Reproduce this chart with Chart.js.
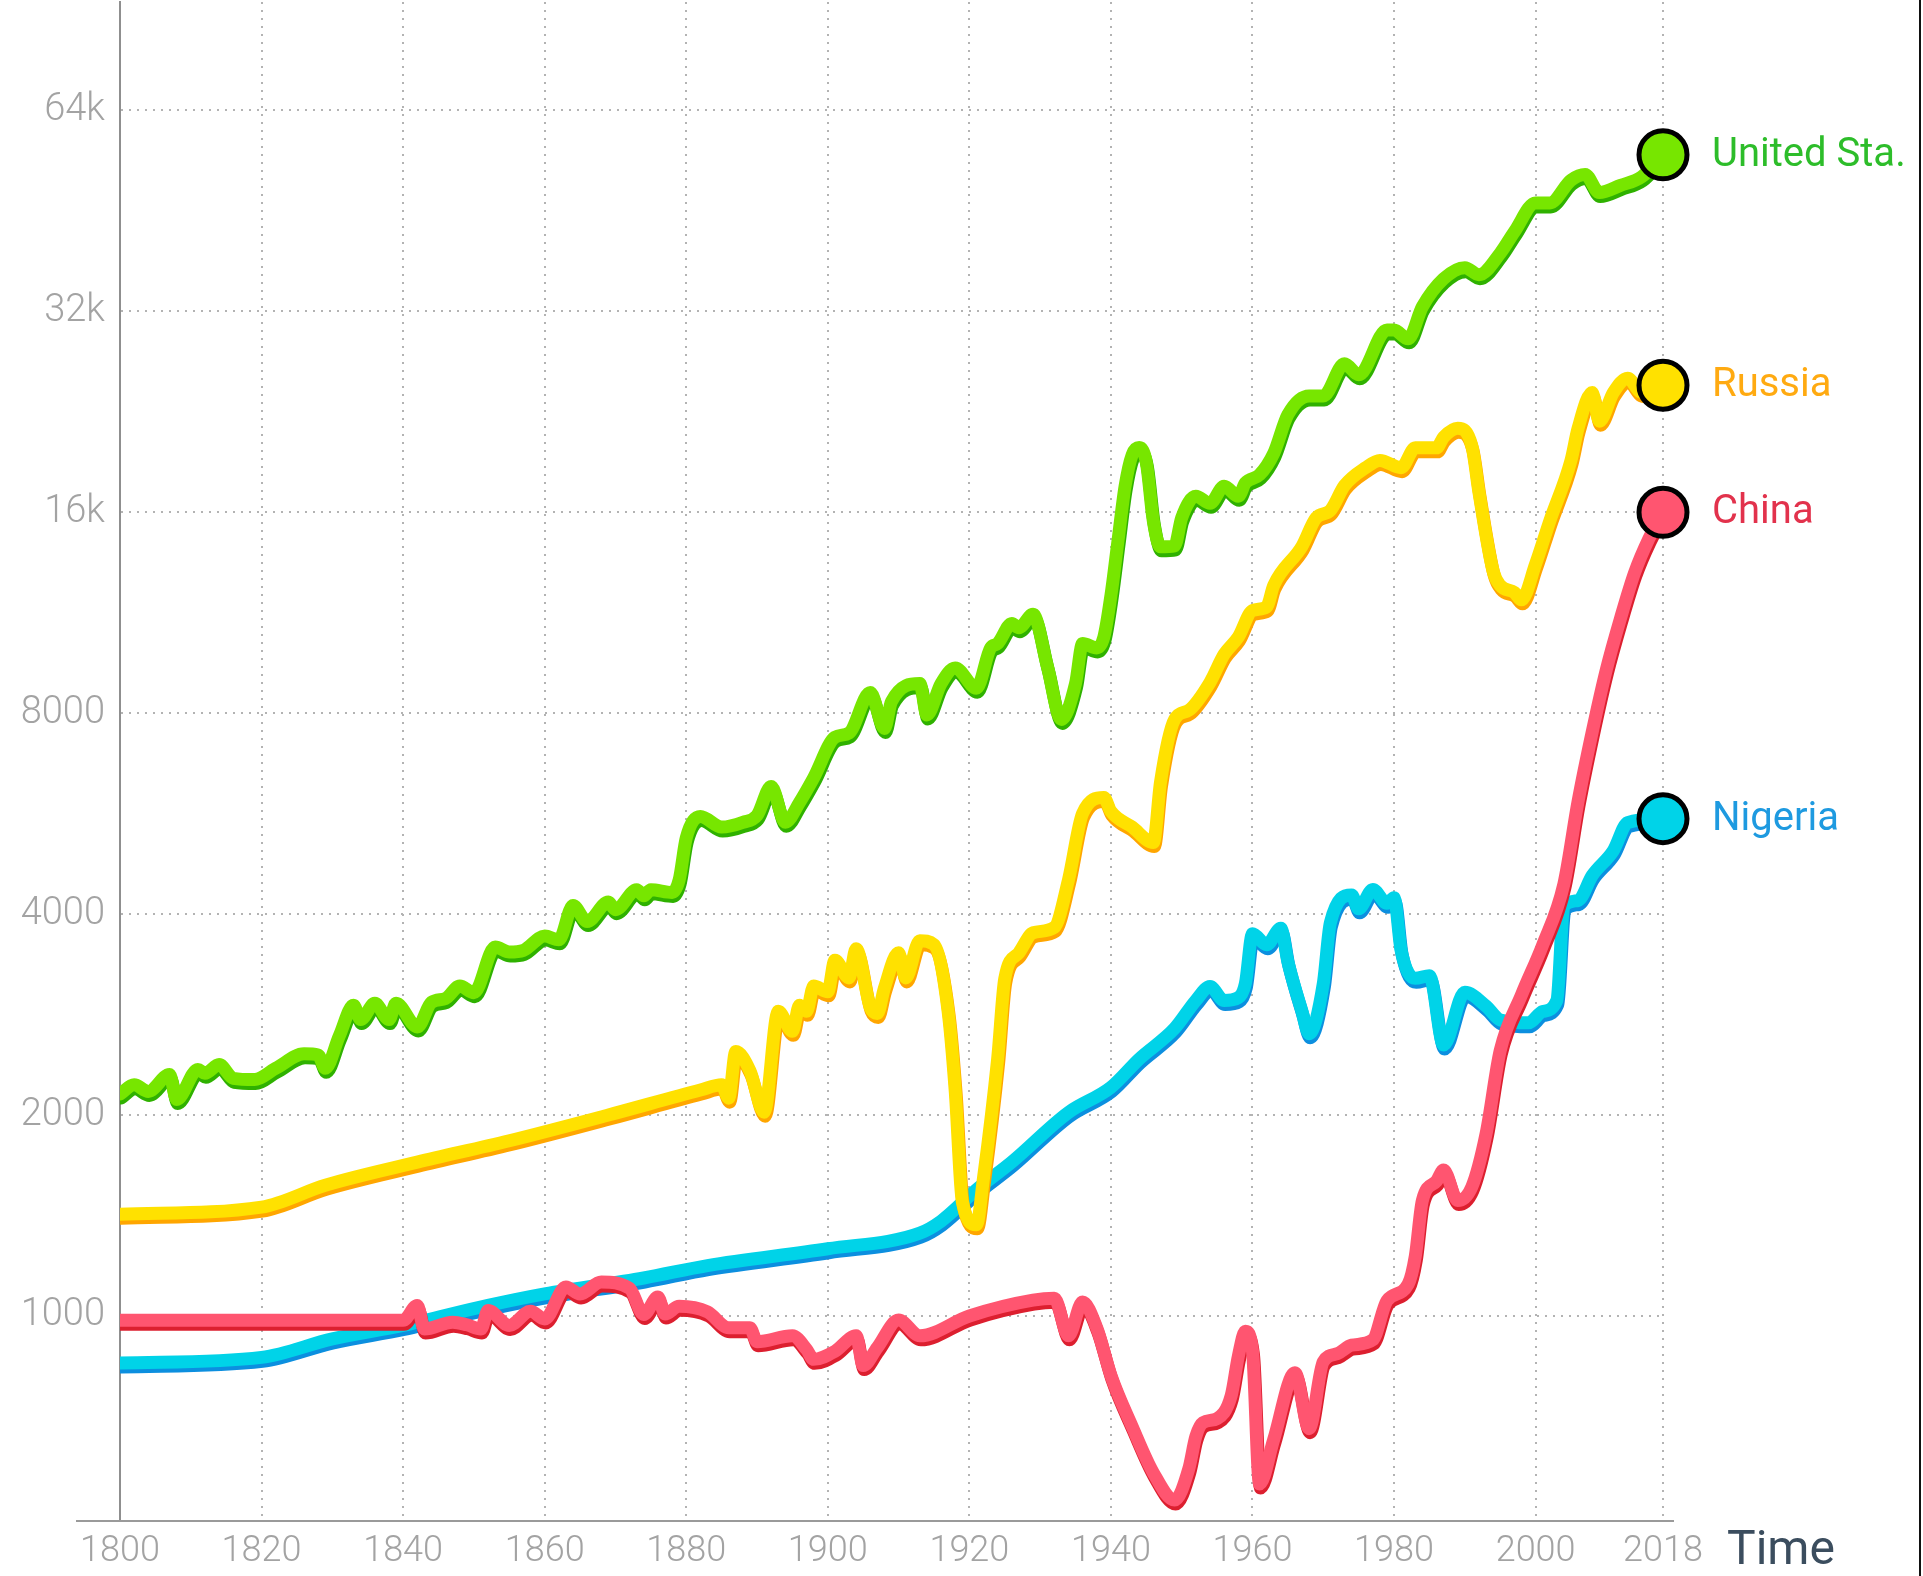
<!DOCTYPE html>
<html>
<head>
<meta charset="utf-8">
<title>Income per person</title>
<script src="https://cdn.jsdelivr.net/npm/chart.js@4.4.1/dist/chart.umd.min.js"></script>
<style>
    html, body { margin: 0; padding: 0; background: #fff; }
    #wrap { width: 1919px; height: 1576px; border-right: 2px solid #111; }
</style>
</head>
<body>
<div id="wrap"><canvas id="charts" width="1919" height="1576"></canvas></div>
<script>
// ticks
const xTickYears = [1800, 1820, 1840, 1860, 1880, 1900, 1920, 1940, 1960, 1980, 2000, 2018]
const yTickValues = [1000, 2000, 4000, 8000, 16000, 32000, 64000]
const yTickLabels = ['1000', '2000', '4000', '8000', '16k', '32k', '64k']

// United States
const usYears = [1800,1802,1804,1807,1808,1811,1812,1814,1816,1819,1822,1826,1828,1829,1831,1833,1834,1836,1838,1839,1842,1844,1846,1848,1850,1853,1855,1857,1860,1862,1864,1866,1869,1870,1873,1874,1875,1878,1879,1880,1882,1885,1888,1890,1892,1894,1896,1898,1901,1903,1906,1908,1909,1913,1914,1916,1918,1921,1923,1924,1926,1927,1929,1931,1933,1935,1936,1938,1939,1940,1941,1942,1943,1944,1945,1946,1947,1949,1950,1952,1954,1956,1958,1959,1961,1963,1965,1968,1970,1973,1975,1979,1980,1982,1984,1987,1990,1992,1995,1997,2000,2002,2005,2007,2009,2012,2015,2018]
const usIncome = [2150,2220,2170,2300,2110,2340,2310,2380,2270,2260,2350,2470,2460,2350,2630,2920,2780,2940,2780,2940,2710,2950,2990,3120,3050,3570,3510,3530,3710,3660,4120,3900,4170,4060,4350,4260,4350,4310,4500,5200,5600,5400,5490,5620,6210,5490,5880,6400,7360,7470,8590,7590,8330,8860,7950,8860,9350,8720,10020,10170,10900,10740,11250,9420,7830,8860,10170,10020,10400,12000,14500,17500,19500,20000,19000,15500,14200,14250,15700,16900,16500,17500,16900,17700,18200,19600,22400,23900,23900,26700,25700,30000,30000,29100,32500,35800,37200,36300,39100,42100,46500,46500,50300,51300,48200,49400,50900,54900]

// Russia
const ruYears = [1800,1820,1829,1842,1855,1869,1882,1885,1886,1887,1889,1891,1893,1895,1896,1897,1898,1900,1901,1903,1904,1906,1907,1908,1910,1911,1913,1915,1917,1918,1919,1921,1922,1924,1925,1927,1929,1932,1934,1936,1939,1940,1943,1946,1947,1949,1951,1954,1956,1958,1960,1962,1963,1967,1969,1971,1973,1976,1978,1981,1983,1986,1987,1989,1991,1992,1994,1995,1997,1998,2000,2002,2005,2006,2008,2009,2011,2013,2015,2018]
const ruIncome = [1420,1456,1570,1700,1830,2000,2180,2220,2120,2490,2330,2020,2860,2670,2920,2860,3120,3060,3410,3210,3550,2900,2840,3100,3500,3210,3650,3600,2860,2175,1485,1370,1610,2430,3200,3500,3750,3820,4500,5660,5980,5700,5400,5120,6300,7830,8080,8900,9800,10400,11400,11540,12430,14230,15700,16100,17540,18660,19130,18660,19980,19980,20720,21370,20100,17130,13060,12430,12130,11830,13380,15520,19130,21370,24190,21900,24190,25400,24190,24800]

// China
const cnYears = [1800,1840,1842,1843,1847,1849,1851,1852,1855,1858,1860,1863,1865,1868,1872,1874,1876,1877,1879,1883,1886,1889,1890,1895,1897,1898,1901,1904,1905,1907,1910,1913,1920,1929,1932,1934,1936,1938,1940,1943,1946,1949,1951,1952,1953,1955,1957,1958,1959,1960,1961,1963,1966,1968,1970,1972,1974,1977,1979,1982,1983,1984,1986,1987,1989,1991,1993,1995,1998,2001,2004,2006,2008,2010,2012,2014,2016,2018]
const cnIncome = [985,985,1037,956,979,970,956,1019,968,1016,990,1105,1079,1124,1100,1005,1068,1007,1034,1014,960,960,915,934,891,861,885,934,843,897,986,934,1000,1056,1063,934,1049,960,815,683,582,530,590,660,692,702,760,870,949,887,560,653,822,678,854,878,904,921,1054,1116,1228,1489,1592,1654,1489,1562,1874,2498,3026,3595,4440,5900,7500,9300,11100,13000,14600,16000]

// Nigeria
const ngYears = [1800,1820,1830,1840,1852,1860,1874,1883,1900,1913,1916,1921,1926,1934,1940,1944,1949,1952,1954,1956,1958,1959,1960,1962,1964,1965,1967,1968,1970,1971,1974,1975,1977,1979,1980,1981,1983,1985,1987,1990,1993,1995,1999,2001,2003,2004,2006,2008,2011,2013,2018]
const ngIncome = [850,867,924,968,1037,1079,1140,1190,1261,1331,1387,1546,1701,2018,2200,2427,2696,2969,3115,2969,2998,3150,3738,3598,3808,3394,2858,2647,3145,3882,4272,4073,4356,4152,4233,3528,3205,3235,2547,3054,2912,2776,2749,2858,2969,4112,4192,4570,4982,5484,5560]

const countryLabels = ['United Sta.', 'Russia', 'China', 'Nigeria']

function main()
{
    const series = [
        { years: usYears, income: usIncome, line: '#77e600', shade: '#2fb100', text: '#2dbd2a', order: 4 },
        { years: ruYears, income: ruIncome, line: '#ffe100', shade: '#ffa600', text: '#ffaa11', order: 2 },
        { years: cnYears, income: cnIncome, line: '#ff5570', shade: '#dc1f2f', text: '#e2324c', order: 1 },
        { years: ngYears, income: ngIncome, line: '#00d3e8', shade: '#0c8fdf', text: '#1e9ae0', order: 3 }
    ]

    const datasets = series.map((s, i) => ({
        label: countryLabels[i],
        data: s.years.map((y, k) => ({ x: y, y: s.income[k] })),
        borderColor: s.line,
        shadeColor: s.shade,
        borderWidth: 13,
        borderJoinStyle: 'round',
        borderCapStyle: 'round',
        cubicInterpolationMode: 'monotone',
        pointRadius: 0,
        order: s.order
    }))

    // end markers, last value of every series
    datasets.push({
        label: 'markers',
        data: series.map(s => ({ x: s.years[s.years.length - 1], y: s.income[s.income.length - 1] })),
        showLine: false,
        pointRadius: 24,
        pointBorderWidth: 5,
        pointBorderColor: '#000',
        pointBackgroundColor: series.map(s => s.line),
        clip: false,
        order: 0
    })
    const markerIndex = datasets.length - 1

    // darker edge under each line
    const lineShade = {
        id: 'lineShade',
        beforeDatasetDraw(chart, args) {
            const ds = chart.data.datasets[args.index]
            if (!ds.shadeColor) return
            const c = chart.ctx
            c.save()
            c.shadowColor = ds.shadeColor
            c.shadowOffsetX = 1
            c.shadowOffsetY = 4
            c.shadowBlur = 0
        },
        afterDatasetDraw(chart, args) {
            if (chart.data.datasets[args.index].shadeColor) chart.ctx.restore()
        }
    }

    const endLabels = {
        id: 'endLabels',
        beforeDatasetsDraw(chart) {
            // x axis line runs a little past the plot on both sides
            const c = chart.ctx, a = chart.chartArea
            c.save()
            c.strokeStyle = '#9a9a9a'
            c.lineWidth = 2
            c.beginPath()
            c.moveTo(a.left - 44, a.bottom)
            c.lineTo(a.right + 11, a.bottom)
            c.stroke()
            c.restore()
        },
        afterDraw(chart) {
            const c = chart.ctx, a = chart.chartArea
            const meta = chart.getDatasetMeta(markerIndex)
            c.save()
            c.font = '40px Roboto'
            c.textAlign = 'left'
            c.textBaseline = 'middle'
            meta.data.forEach((pt, i) => {
                c.fillStyle = series[i].text
                c.fillText(countryLabels[i], pt.x + 49, pt.y + 1)
            })
            c.font = '48px Roboto'
            c.fillStyle = '#3b4d5e'
            c.fillText('Time', a.right + 64, a.bottom + 31)
            c.restore()
        }
    }

    var ctx = document.getElementById('charts').getContext('2d')

    var chart = new Chart(ctx, {
        type: 'line',
        data: { datasets: datasets },
        plugins: [lineShade, endLabels],
        options: {
            responsive: false,
            animation: false,
            layout: {
                autoPadding: false,
                padding: { top: 2, right: 256, left: 0, bottom: 0 }
            },
            plugins: {
                legend: { display: false },
                tooltip: { enabled: false }
            },
            scales: {
                x: {
                    type: 'linear',
                    min: 1800,
                    max: 2018,
                    afterBuildTicks: scale => { scale.ticks = xTickYears.map(v => ({ value: v })) },
                    afterFit: scale => {
                        scale.height = 55
                        scale.paddingLeft = 0
                        scale.paddingRight = 0
                    },
                    grid: { color: '#b3b3b3', lineWidth: 2, drawTicks: false },
                    border: { display: true, color: '#9a9a9a', width: 2, dash: [2, 6] },
                    ticks: {
                        autoSkip: false,
                        maxRotation: 0,
                        padding: 9,
                        color: '#a3a3a3',
                        font: { family: 'Roboto', size: 36, weight: '300' },
                        callback: v => String(v)
                    }
                },
                y: {
                    type: 'logarithmic',
                    min: 493,
                    max: 93000,
                    afterBuildTicks: scale => { scale.ticks = yTickValues.map(v => ({ value: v })) },
                    afterFit: scale => {
                        scale.width = 120
                        scale.paddingTop = 0
                        scale.paddingBottom = 0
                    },
                    grid: { color: '#b3b3b3', lineWidth: 2, drawTicks: false },
                    border: { display: true, color: '#8f8f8f', width: 2, dash: [2, 6] },
                    ticks: {
                        padding: 15,
                        color: '#a3a3a3',
                        font: { family: 'Roboto', size: 38, weight: '300' },
                        callback: (v, i) => yTickLabels[i]
                    }
                }
            }
        }
    })
}

main()
</script>
</body>
</html>
